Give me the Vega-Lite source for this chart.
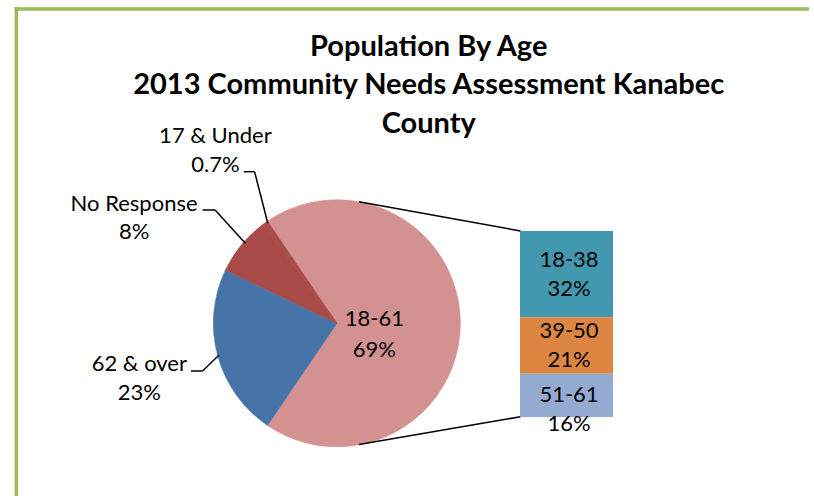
{
  "$schema": "https://vega.github.io/schema/vega-lite/v6.json",
  "width": 814,
  "height": 496,
  "padding": 0,
  "autosize": "none",
  "background": "#ffffff",
  "config": {"view": {"stroke": null}, "font": "Lato", "text": {"font": "Lato"}},
  "datasets": {
    "chart": [{"title": ["Population By Age", "2013 Community Needs Assessment Kanabec", "County"]}],
    "pie": [
      {"group": "18-61", "pct": 69.0, "label": "69%"},
      {"group": "62 & over", "pct": 22.6, "label": "23%"},
      {"group": "No Response", "pct": 7.7, "label": "8%"},
      {"group": "17 & Under", "pct": 0.7, "label": "0.7%"}
    ],
    "bar": [
      {"group": "18-38", "pct": 32, "label": "32%"},
      {"group": "39-50", "pct": 21, "label": "21%"},
      {"group": "51-61", "pct": 16, "label": "16%"}
    ]
  },
  "resolve": {"scale": {"y": "independent"}},
  "layer": [
    {
      "layer": [
        {
          "data": {"name": "chart"},
          "layer": [
            {
              "mark": {"type": "rule", "stroke": "#9BBB59", "strokeWidth": 3.5},
              "encoding": {
                "x": {"datum": 11.5, "type": "quantitative", "scale": {"domain": [0, 814], "nice": false, "zero": false}, "axis": null},
                "y": {"datum": 7, "type": "quantitative", "scale": {"domain": [0, 496], "reverse": true, "nice": false, "zero": false}, "axis": null},
                "y2": {"datum": 496}
              }
            },
            {
              "mark": {"type": "rule", "stroke": "#9BBB59", "strokeWidth": 3.5},
              "encoding": {
                "x": {"datum": 9.75, "type": "quantitative", "scale": {"domain": [0, 814], "nice": false, "zero": false}, "axis": null},
                "x2": {"datum": 814},
                "y": {"datum": 9, "type": "quantitative", "scale": {"domain": [0, 496], "reverse": true, "nice": false, "zero": false}, "axis": null}
              }
            },
            {
              "mark": {"type": "text", "font": "Lato", "fontWeight": "bold", "fontSize": 29, "lineHeight": 38.5, "align": "center", "baseline": "alphabetic", "color": "#000000"},
              "encoding": {
                "x": {"datum": 429, "type": "quantitative", "scale": {"domain": [0, 814], "nice": false, "zero": false}, "axis": null},
                "y": {"datum": 55.5, "type": "quantitative", "scale": {"domain": [0, 496], "reverse": true, "nice": false, "zero": false}, "axis": null},
                "text": {"field": "title"}
              }
            }
          ]
        },
        {
          "data": {"name": "pie"},
          "mark": {"type": "arc", "radius": 123.5, "strokeWidth": 0.6},
          "encoding": {
            "x": {"datum": 336, "type": "quantitative", "scale": {"domain": [0, 814], "nice": false, "zero": false}, "axis": null},
            "y": {"datum": 323.3, "type": "quantitative", "scale": {"domain": [0, 496], "reverse": true, "nice": false, "zero": false}, "axis": null},
            "theta": {"field": "pct", "type": "quantitative", "stack": "zero", "scale": {"range": [-0.5969, 5.6863]}},
            "order": {"field": "pct", "sort": "descending"},
            "color": {
              "field": "group", "type": "nominal", "legend": null,
              "scale": {
                "domain": ["18-61", "62 & over", "No Response", "17 & Under", "18-38", "39-50", "51-61"],
                "range": ["#D39291", "#4673A8", "#A84A47", "#A84A47", "#4198AF", "#DD8642", "#94AAD0"]
              }
            },
            "stroke": {
              "field": "group", "type": "nominal", "legend": null,
              "scale": {
                "domain": ["18-61", "62 & over", "No Response", "17 & Under", "18-38", "39-50", "51-61"],
                "range": ["#D39291", "#4673A8", "#A84A47", "#A84A47", "#4198AF", "#DD8642", "#94AAD0"]
              }
            }
          }
        },
        {
          "data": {"name": "pie"},
          "transform": [{"filter": {"field": "group", "equal": "18-61"}}],
          "layer": [
            {
              "mark": {"type": "rule", "stroke": "#000000", "strokeWidth": 1.5},
              "encoding": {
                "x": {"datum": 358.3, "type": "quantitative", "scale": {"domain": [0, 814], "nice": false, "zero": false}, "axis": null},
                "x2": {"datum": 522},
                "y": {"datum": 201.7, "type": "quantitative", "scale": {"domain": [0, 496], "reverse": true, "nice": false, "zero": false}, "axis": null},
                "y2": {"datum": 231}
              }
            },
            {
              "mark": {"type": "rule", "stroke": "#000000", "strokeWidth": 1.5},
              "encoding": {
                "x": {"datum": 358.3, "type": "quantitative", "scale": {"domain": [0, 814], "nice": false, "zero": false}, "axis": null},
                "x2": {"datum": 522},
                "y": {"datum": 444.5, "type": "quantitative", "scale": {"domain": [0, 496], "reverse": true, "nice": false, "zero": false}, "axis": null},
                "y2": {"datum": 416.7}
              }
            },
            {
              "mark": {"type": "text", "fontSize": 22, "align": "center", "baseline": "middle", "dy": -15.5, "color": "#000000"},
              "encoding": {
                "x": {"datum": 374, "type": "quantitative", "scale": {"domain": [0, 814], "nice": false, "zero": false}, "axis": null},
                "y": {"datum": 334.5, "type": "quantitative", "scale": {"domain": [0, 496], "reverse": true, "nice": false, "zero": false}, "axis": null},
                "text": {"field": "group"}
              }
            },
            {
              "mark": {"type": "text", "fontSize": 22, "align": "center", "baseline": "middle", "dy": 15.5, "color": "#000000"},
              "encoding": {
                "x": {"datum": 374, "type": "quantitative", "scale": {"domain": [0, 814], "nice": false, "zero": false}, "axis": null},
                "y": {"datum": 334.5, "type": "quantitative", "scale": {"domain": [0, 496], "reverse": true, "nice": false, "zero": false}, "axis": null},
                "text": {"field": "label"}
              }
            }
          ]
        },
        {
          "data": {"name": "pie"},
          "transform": [{"filter": {"field": "group", "equal": "17 & Under"}}],
          "layer": [
            {
              "mark": {"type": "rule", "stroke": "#000000", "strokeWidth": 1.5},
              "encoding": {
                "x": {"datum": 241.7, "type": "quantitative", "scale": {"domain": [0, 814], "nice": false, "zero": false}, "axis": null},
                "x2": {"datum": 252.7},
                "y": {"datum": 171.7, "type": "quantitative", "scale": {"domain": [0, 496], "reverse": true, "nice": false, "zero": false}, "axis": null},
                "y2": {"datum": 171.7}
              }
            },
            {
              "mark": {"type": "rule", "stroke": "#000000", "strokeWidth": 1.5},
              "encoding": {
                "x": {"datum": 252.7, "type": "quantitative", "scale": {"domain": [0, 814], "nice": false, "zero": false}, "axis": null},
                "x2": {"datum": 266},
                "y": {"datum": 171.7, "type": "quantitative", "scale": {"domain": [0, 496], "reverse": true, "nice": false, "zero": false}, "axis": null},
                "y2": {"datum": 223}
              }
            },
            {
              "mark": {"type": "text", "fontSize": 22, "align": "center", "baseline": "middle", "dy": -14.5, "color": "#000000"},
              "encoding": {
                "x": {"datum": 213, "type": "quantitative", "scale": {"domain": [0, 814], "nice": false, "zero": false}, "axis": null},
                "y": {"datum": 150.5, "type": "quantitative", "scale": {"domain": [0, 496], "reverse": true, "nice": false, "zero": false}, "axis": null},
                "text": {"field": "group"}
              }
            },
            {
              "mark": {"type": "text", "fontSize": 22, "align": "center", "baseline": "middle", "dy": 14.5, "color": "#000000"},
              "encoding": {
                "x": {"datum": 213, "type": "quantitative", "scale": {"domain": [0, 814], "nice": false, "zero": false}, "axis": null},
                "y": {"datum": 150.5, "type": "quantitative", "scale": {"domain": [0, 496], "reverse": true, "nice": false, "zero": false}, "axis": null},
                "text": {"field": "label"}
              }
            }
          ]
        },
        {
          "data": {"name": "pie"},
          "transform": [{"filter": {"field": "group", "equal": "No Response"}}],
          "layer": [
            {
              "mark": {"type": "rule", "stroke": "#000000", "strokeWidth": 1.5},
              "encoding": {
                "x": {"datum": 200, "type": "quantitative", "scale": {"domain": [0, 814], "nice": false, "zero": false}, "axis": null},
                "x2": {"datum": 212.7},
                "y": {"datum": 210, "type": "quantitative", "scale": {"domain": [0, 496], "reverse": true, "nice": false, "zero": false}, "axis": null},
                "y2": {"datum": 210}
              }
            },
            {
              "mark": {"type": "rule", "stroke": "#000000", "strokeWidth": 1.5},
              "encoding": {
                "x": {"datum": 212.7, "type": "quantitative", "scale": {"domain": [0, 814], "nice": false, "zero": false}, "axis": null},
                "x2": {"datum": 243.3},
                "y": {"datum": 210, "type": "quantitative", "scale": {"domain": [0, 496], "reverse": true, "nice": false, "zero": false}, "axis": null},
                "y2": {"datum": 243.3}
              }
            },
            {
              "mark": {"type": "text", "fontSize": 22, "align": "center", "baseline": "middle", "dy": -14, "color": "#000000"},
              "encoding": {
                "x": {"datum": 130.7, "type": "quantitative", "scale": {"domain": [0, 814], "nice": false, "zero": false}, "axis": null},
                "y": {"datum": 218, "type": "quantitative", "scale": {"domain": [0, 496], "reverse": true, "nice": false, "zero": false}, "axis": null},
                "text": {"field": "group"}
              }
            },
            {
              "mark": {"type": "text", "fontSize": 22, "align": "center", "baseline": "middle", "dy": 14, "color": "#000000"},
              "encoding": {
                "x": {"datum": 130.7, "type": "quantitative", "scale": {"domain": [0, 814], "nice": false, "zero": false}, "axis": null},
                "y": {"datum": 218, "type": "quantitative", "scale": {"domain": [0, 496], "reverse": true, "nice": false, "zero": false}, "axis": null},
                "text": {"field": "label"}
              }
            }
          ]
        },
        {
          "data": {"name": "pie"},
          "transform": [{"filter": {"field": "group", "equal": "62 & over"}}],
          "layer": [
            {
              "mark": {"type": "rule", "stroke": "#000000", "strokeWidth": 1.5},
              "encoding": {
                "x": {"datum": 188.3, "type": "quantitative", "scale": {"domain": [0, 814], "nice": false, "zero": false}, "axis": null},
                "x2": {"datum": 200},
                "y": {"datum": 371, "type": "quantitative", "scale": {"domain": [0, 496], "reverse": true, "nice": false, "zero": false}, "axis": null},
                "y2": {"datum": 371}
              }
            },
            {
              "mark": {"type": "rule", "stroke": "#000000", "strokeWidth": 1.5},
              "encoding": {
                "x": {"datum": 200, "type": "quantitative", "scale": {"domain": [0, 814], "nice": false, "zero": false}, "axis": null},
                "x2": {"datum": 216.7},
                "y": {"datum": 371, "type": "quantitative", "scale": {"domain": [0, 496], "reverse": true, "nice": false, "zero": false}, "axis": null},
                "y2": {"datum": 355}
              }
            },
            {
              "mark": {"type": "text", "fontSize": 22, "align": "center", "baseline": "middle", "dy": -14.25, "color": "#000000"},
              "encoding": {
                "x": {"datum": 136, "type": "quantitative", "scale": {"domain": [0, 814], "nice": false, "zero": false}, "axis": null},
                "y": {"datum": 378.25, "type": "quantitative", "scale": {"domain": [0, 496], "reverse": true, "nice": false, "zero": false}, "axis": null},
                "text": {"field": "group"}
              }
            },
            {
              "mark": {"type": "text", "fontSize": 22, "align": "center", "baseline": "middle", "dy": 14.25, "color": "#000000"},
              "encoding": {
                "x": {"datum": 136, "type": "quantitative", "scale": {"domain": [0, 814], "nice": false, "zero": false}, "axis": null},
                "y": {"datum": 378.25, "type": "quantitative", "scale": {"domain": [0, 496], "reverse": true, "nice": false, "zero": false}, "axis": null},
                "text": {"field": "label"}
              }
            }
          ]
        }
      ]
    },
    {
      "data": {"name": "bar"},
      "layer": [
        {
          "mark": {"type": "bar", "orient": "vertical", "width": 93},
          "encoding": {
            "x": {"datum": 568.5, "type": "quantitative", "scale": {"domain": [0, 814], "nice": false, "zero": false}, "axis": null},
            "y": {"field": "pct", "type": "quantitative", "stack": "zero", "scale": {"domain": [-29.306, 154.694], "nice": false, "zero": false}, "axis": null},
            "order": {"field": "pct", "sort": "ascending"},
            "color": {
              "field": "group", "type": "nominal", "legend": null,
              "scale": {
                "domain": ["18-61", "62 & over", "No Response", "17 & Under", "18-38", "39-50", "51-61"],
                "range": ["#D39291", "#4673A8", "#A84A47", "#A84A47", "#4198AF", "#DD8642", "#94AAD0"]
              }
            }
          }
        },
        {
          "mark": {"type": "text", "fontSize": 22, "align": "center", "baseline": "middle", "dy": -14.5, "color": "#000000"},
          "encoding": {
            "x": {"datum": 571, "type": "quantitative", "scale": {"domain": [0, 814], "nice": false, "zero": false}, "axis": null},
            "y": {"field": "pct", "type": "quantitative", "stack": "zero", "bandPosition": 0.5, "scale": {"domain": [-29.306, 154.694], "nice": false, "zero": false}, "axis": null},
            "order": {"field": "pct", "sort": "ascending"},
            "detail": {"field": "group"},
            "text": {"condition": {"test": "datum.group != '51-61'", "field": "group"}, "value": ""}
          }
        },
        {
          "mark": {"type": "text", "fontSize": 22, "align": "center", "baseline": "middle", "dy": 14.5, "color": "#000000"},
          "encoding": {
            "x": {"datum": 571, "type": "quantitative", "scale": {"domain": [0, 814], "nice": false, "zero": false}, "axis": null},
            "y": {"field": "pct", "type": "quantitative", "stack": "zero", "bandPosition": 0.5, "scale": {"domain": [-29.306, 154.694], "nice": false, "zero": false}, "axis": null},
            "order": {"field": "pct", "sort": "ascending"},
            "detail": {"field": "group"},
            "text": {"condition": {"test": "datum.group != '51-61'", "field": "label"}, "value": ""}
          }
        },
        {
          "mark": {"type": "text", "fontSize": 22, "align": "center", "baseline": "middle", "dy": 0, "color": "#000000"},
          "encoding": {
            "x": {"datum": 571, "type": "quantitative", "scale": {"domain": [0, 814], "nice": false, "zero": false}, "axis": null},
            "y": {"field": "pct", "type": "quantitative", "stack": "zero", "bandPosition": 0.5, "scale": {"domain": [-29.306, 154.694], "nice": false, "zero": false}, "axis": null},
            "order": {"field": "pct", "sort": "ascending"},
            "detail": {"field": "group"},
            "text": {"condition": {"test": "datum.group == '51-61'", "field": "group"}, "value": ""}
          }
        },
        {
          "mark": {"type": "text", "fontSize": 22, "align": "center", "baseline": "middle", "dy": 29, "color": "#000000"},
          "encoding": {
            "x": {"datum": 571, "type": "quantitative", "scale": {"domain": [0, 814], "nice": false, "zero": false}, "axis": null},
            "y": {"field": "pct", "type": "quantitative", "stack": "zero", "bandPosition": 0.5, "scale": {"domain": [-29.306, 154.694], "nice": false, "zero": false}, "axis": null},
            "order": {"field": "pct", "sort": "ascending"},
            "detail": {"field": "group"},
            "text": {"condition": {"test": "datum.group == '51-61'", "field": "label"}, "value": ""}
          }
        }
      ]
    }
  ]
}
